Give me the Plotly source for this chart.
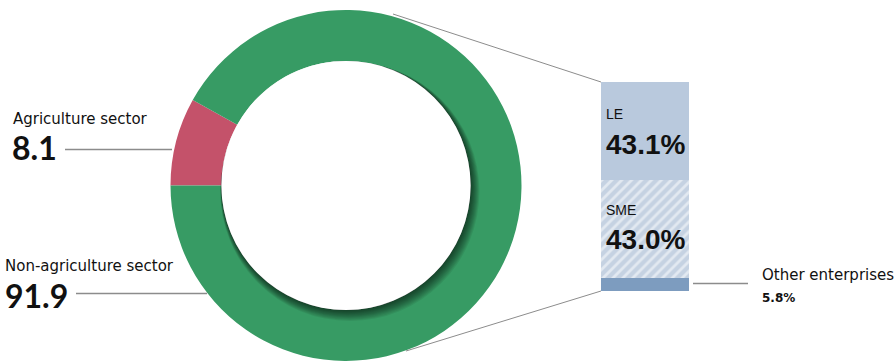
import plotly.graph_objects as go

W, H = 896, 361

# ---- data ----
sector_labels = ["Agriculture sector", "Non-agriculture sector"]
sector_values = [8.1, 91.9]
sector_colors = ["#c4526a", "#379b64"]

ent_labels = ["Other enterprises", "SME", "LE"]
ent_values = [5.8, 43.0, 43.1]
ent_colors = ["#7d9cbf", "#c5d2e2", "#b9c9dd"]


def px(x):
    return x / W


def py(y):
    return 1 - y / H


fig = go.Figure()

# donut
cx, cy, R = 346, 185.5, 175.5
fig.add_trace(go.Pie(
    labels=sector_labels, values=sector_values,
    marker=dict(colors=sector_colors, line=dict(width=0)),
    hole=0.71, sort=False, direction="clockwise", rotation=270,
    textinfo="none", hoverinfo="label+value", showlegend=False,
    domain=dict(x=[px(cx - R), px(cx + R)], y=[py(cy + R), py(cy - R)]),
))

# stacked bar (breakdown of non-agriculture sector)
for lab, val, col in zip(ent_labels, ent_values, ent_colors):
    pattern = dict(shape="/", fgcolor="white", bgcolor=col, size=7, solidity=0.4) if lab == "SME" else None
    fig.add_trace(go.Bar(
        x=["ent"], y=[val], name=lab, width=1,
        marker=dict(color=col, line=dict(width=0), pattern=pattern),
        xaxis="x", yaxis="y", showlegend=False, hoverinfo="name+y",
    ))

fig.update_layout(
    barmode="stack",
    xaxis=dict(domain=[px(601), px(689)], range=[-0.5, 0.5], visible=False, fixedrange=True),
    yaxis=dict(domain=[py(291), py(82)], range=[0, sum(ent_values)], visible=False, fixedrange=True),
)

shapes = []
# inner shadow on the ring (bottom-right)
r_in = R * 0.71
n = 10
for k in range(n):
    f = (n - k) / n          # 1 -> 0.1
    off = 7 * f
    rr = r_in + 5 * f
    ox, oy = cx + off * 0.55, cy + off * 0.85
    shapes.append(dict(type="circle", xref="paper", yref="paper",
                       x0=px(ox - rr), x1=px(ox + rr), y0=py(oy + rr), y1=py(oy - rr),
                       fillcolor="rgba(0,0,0,0.07)", line=dict(width=0), layer="above"))
shapes.append(dict(type="circle", xref="paper", yref="paper",
                   x0=px(cx - r_in), x1=px(cx + r_in), y0=py(cy + r_in), y1=py(cy - r_in),
                   fillcolor="white", line=dict(width=0), layer="above"))

line_col = "#8c8c8c"
# connectors donut -> bar
shapes.append(dict(type="line", xref="paper", yref="paper", x0=px(393), y0=py(14), x1=px(601), y1=py(82),
                   line=dict(color=line_col, width=1)))
shapes.append(dict(type="line", xref="paper", yref="paper", x0=px(406), y0=py(351), x1=px(601), y1=py(291),
                   line=dict(color=line_col, width=1)))
# label leader lines
shapes.append(dict(type="line", xref="paper", yref="paper", x0=px(65), y0=py(149.5), x1=px(172), y1=py(149.5),
                   line=dict(color=line_col, width=1.5)))
shapes.append(dict(type="line", xref="paper", yref="paper", x0=px(76), y0=py(293.5), x1=px(207), y1=py(293.5),
                   line=dict(color=line_col, width=1.5)))
shapes.append(dict(type="line", xref="paper", yref="paper", x0=px(693), y0=py(283.5), x1=px(748), y1=py(283.5),
                   line=dict(color=line_col, width=1.5)))

ann = []
lf = "DejaVu Sans, sans-serif"
nf = "Lato, Liberation Sans, sans-serif"


def text(x, y, s, size, bold=False, family=lf):
    ann.append(dict(x=px(x), y=py(y), xref="paper", yref="paper", xanchor="left", yanchor="middle",
                    text=f"<b>{s}</b>" if bold else s, showarrow=False,
                    font=dict(size=size, color="#111", family=family)))


text(11, 119, sector_labels[0], 15)
text(10, 147, f"{sector_values[0]}", 32, True, family=nf)
text(3, 266, sector_labels[1], 15)
text(3, 295, f"{sector_values[1]}", 32, True, family=nf)

bf = "Liberation Sans, Arial, sans-serif"
text(604, 114, ent_labels[2], 14, family=bf)
text(604, 144, f"{ent_values[2]:.1f}%", 28, True, family=bf)
text(604, 210, ent_labels[1], 14, family=bf)
text(604, 239, f"{ent_values[1]:.1f}%", 28, True, family=bf)
text(760, 275, ent_labels[0], 15)
text(760, 298, f"{ent_values[0]:.1f}%", 12, True)

fig.update_layout(
    width=W, height=H, autosize=False,
    margin=dict(l=0, r=0, t=0, b=0),
    paper_bgcolor="white", plot_bgcolor="white",
    shapes=shapes, annotations=ann,
)

fig.write_html("out.html", config={"displayModeBar": False},
               post_script="document.body.style.margin='0';document.body.style.overflow='hidden';")
